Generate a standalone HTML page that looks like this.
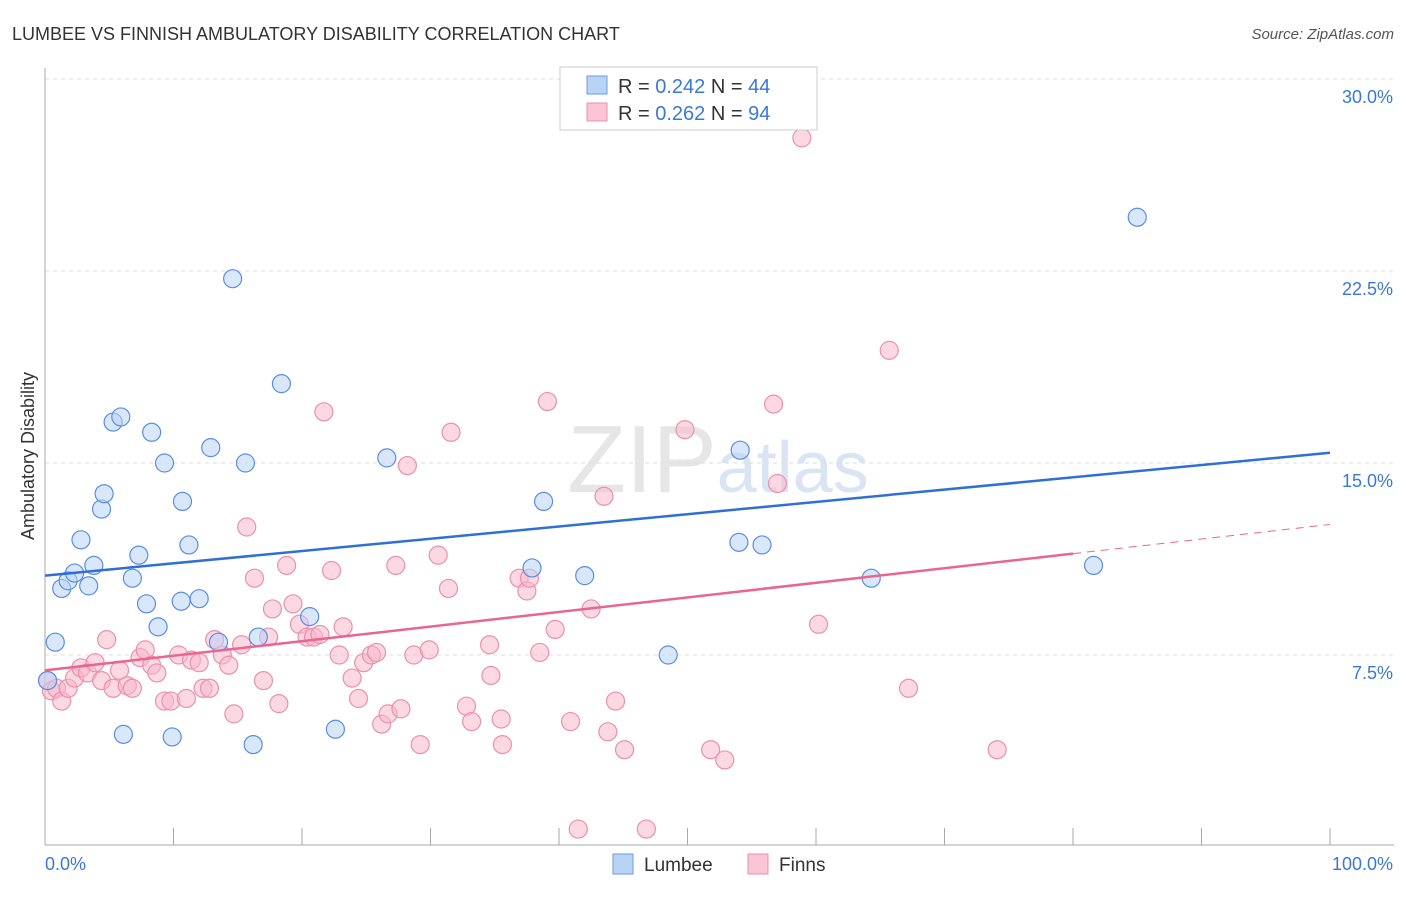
<!DOCTYPE html>
<html><head><meta charset="utf-8"><style>
body{margin:0;background:#fff;font-family:"Liberation Sans",sans-serif}
svg text{font-family:"Liberation Sans",sans-serif}
</style></head><body>
<svg id="chart" width="1406" height="892" xmlns="http://www.w3.org/2000/svg">
<text x="12" y="40" font-size="18" fill="#333">LUMBEE VS FINNISH AMBULATORY DISABILITY CORRELATION CHART</text>
<text x="1394" y="39" font-size="15" fill="#555" text-anchor="end" font-style="italic">Source: ZipAtlas.com</text>
<text x="718" y="492" font-size="96" fill="#e6e6e6" text-anchor="middle" font-family="Liberation Serif">ZIP<tspan fill="#d9e4f5" font-family="Liberation Sans" font-size="72">atlas</tspan></text>
<text transform="translate(34,456) rotate(-90)" font-size="18" fill="#333" text-anchor="middle">Ambulatory Disability</text>
<g id="grid"></g><g id="axes"></g><g id="pts"></g><g id="lines"></g>
<g>
<rect x="560" y="67" width="257" height="63" fill="#fff" stroke="#ccc"/>
<rect x="587" y="76" width="20" height="18" fill="#b9d3f5" stroke="#6b9be0"/>
<rect x="587" y="103" width="20" height="18" fill="#fac6d5" stroke="#ec8fac"/>
<text x="618" y="93" font-size="20" fill="#333">R = <tspan fill="#3a78d8">0.242</tspan>   N = <tspan fill="#3a78d8">44</tspan></text>
<text x="618" y="120" font-size="20" fill="#333">R = <tspan fill="#3a78d8">0.262</tspan>   N = <tspan fill="#3a78d8">94</tspan></text>
</g>
<g>
<rect x="613" y="854" width="20" height="20" fill="#b9d3f5" stroke="#6b9be0"/>
<text x="644" y="871" font-size="19" fill="#333">Lumbee</text>
<rect x="748" y="854" width="20" height="20" fill="#fac6d5" stroke="#ec8fac"/>
<text x="779" y="871" font-size="19" fill="#333">Finns</text>
</g>
</svg>
<script>
const yTicks=[7.5,15,22.5,30];
const yTickLabels=["7.5%","15.0%","22.5%","30.0%"];
const xTickLabels=["0.0%","100.0%"];
const lumbeeX=[0.2,0.8,1.3,1.8,2.3,2.8,3.4,3.8,4.4,4.6,5.3,5.9,6.1,6.8,7.3,7.9,8.3,8.8,9.3,9.9,10.6,10.7,11.2,12.0,12.9,13.5,14.6,15.6,16.2,16.6,18.4,20.6,22.6,26.6,37.9,38.8,42.0,48.5,54.0,54.1,55.8,64.3,81.6,85.0];
const lumbeeY=[6.5,8.0,10.1,10.4,10.7,12.0,10.2,11.0,13.2,13.8,16.6,16.8,4.4,10.5,11.4,9.5,16.2,8.6,15.0,4.3,9.6,13.5,11.8,9.7,15.6,8.0,22.2,15.0,4.0,8.2,18.1,9.0,4.6,15.2,10.9,13.5,10.6,7.5,11.9,15.5,11.8,10.5,11.0,24.6];
const finnsX=[0.2,0.5,0.9,1.3,1.8,2.3,2.8,3.3,3.9,4.4,4.8,5.3,5.8,6.4,6.8,7.4,7.8,8.3,8.7,9.3,9.8,10.4,11.0,11.4,12.0,12.3,12.8,13.2,13.8,14.3,14.7,15.3,15.7,16.3,17.0,17.4,17.7,18.2,18.8,19.3,19.8,20.4,20.9,21.4,21.7,22.3,22.9,23.2,23.9,24.4,24.8,25.4,25.8,26.2,26.7,27.3,27.7,28.2,28.7,29.2,29.9,30.6,31.4,31.6,32.8,33.2,34.6,34.7,35.5,35.6,36.9,37.5,37.7,38.5,39.1,39.7,40.9,42.5,43.5,43.8,44.4,45.1,46.8,49.8,51.8,52.9,56.7,57.0,58.9,60.2,65.7,67.2,74.1,41.5];
const finnsY=[6.5,6.1,6.2,5.7,6.2,6.6,7.0,6.8,7.2,6.5,8.1,6.2,6.9,6.3,6.2,7.4,7.7,7.1,6.8,5.7,5.7,7.5,5.8,7.3,7.2,6.2,6.2,8.1,7.5,7.1,5.2,7.9,12.5,10.5,6.5,8.2,9.3,5.6,11.0,9.5,8.7,8.2,8.2,8.3,17.0,10.8,7.5,8.6,6.6,5.8,7.2,7.5,7.6,4.8,5.2,11.0,5.4,14.9,7.5,4.0,7.7,11.4,10.1,16.2,5.5,4.9,7.9,6.7,5.0,4.0,10.5,10.0,10.5,7.6,17.4,8.5,4.9,9.3,13.7,4.5,5.7,3.8,0.7,16.3,3.8,3.4,17.3,14.2,27.7,8.7,19.4,6.2,3.8,0.7];
const lumbeeTrend=[10.6,15.4];
const finnsTrend=[6.9,12.6];
const X0=45,X1=1330,Y0=847,PY=25.6;
const sx=v=>X0+(X1-X0)*v/100, sy=v=>Y0-v*PY;
const NS="http://www.w3.org/2000/svg";
function mk(t,a,p){const e=document.createElementNS(NS,t);for(const k in a)e.setAttribute(k,a[k]);document.getElementById(p).appendChild(e);return e;}
yTicks.forEach((v,i)=>{
 const l=mk('line',{x1:X0,x2:1394,y1:sy(v),y2:sy(v),stroke:'#ddd','stroke-dasharray':'4,4'},'grid');
 
 
 const t=mk('text',{x:1393,y:sy(v)+24,'font-size':18,fill:'#3a78d8','text-anchor':'end'},'axes');
 t.textContent=yTickLabels[i];
 
 
});
mk('line',{x1:X0,x2:X0,y1:68,y2:845,stroke:'#aaa'},'axes');
mk('line',{x1:X0,x2:1394,y1:845,y2:845,stroke:'#aaa'},'axes');
for(let i=1;i<=10;i++){const x=sx(i*10);mk('line',{x1:x,x2:x,y1:828,y2:845,stroke:'#aaa'},'axes');}
[0,100].forEach((v,i)=>{const t=mk('text',{x:i?1393:45,y:870,'font-size':18,fill:'#3a78d8','text-anchor':i?'end':'start'},'axes');
 t.textContent=xTickLabels[i];
 
 });
function pts(xs,ys,fill,stroke,name){xs.forEach((x,i)=>{const c=mk('circle',{cx:sx(x),cy:sy(ys[i]),r:9,fill:fill,'fill-opacity':0.55,stroke:stroke,'stroke-width':1.2},'pts');
 
 });}
pts(finnsX,finnsY,'#f8b8cb','#e991ae','finns-point');
pts(lumbeeX,lumbeeY,'#b9d3f5','#5a8ee0','lumbee-point');
let l1=mk('line',{x1:sx(0),y1:sy(lumbeeTrend[0]),x2:sx(100),y2:sy(lumbeeTrend[1]),stroke:'#2f6fd6','stroke-width':2.5},'lines');


const fm=v=>finnsTrend[0]+(finnsTrend[1]-finnsTrend[0])*v/100;
let l2=mk('line',{x1:sx(0),y1:sy(fm(0)),x2:sx(80),y2:sy(fm(80)),stroke:'#e8668f','stroke-width':2.5},'lines');


let l3=mk('line',{x1:sx(80),y1:sy(fm(80)),x2:sx(100),y2:sy(fm(100)),stroke:'#e8668f','stroke-width':1,'stroke-dasharray':'8,6'},'lines');


</script>
</body></html>
